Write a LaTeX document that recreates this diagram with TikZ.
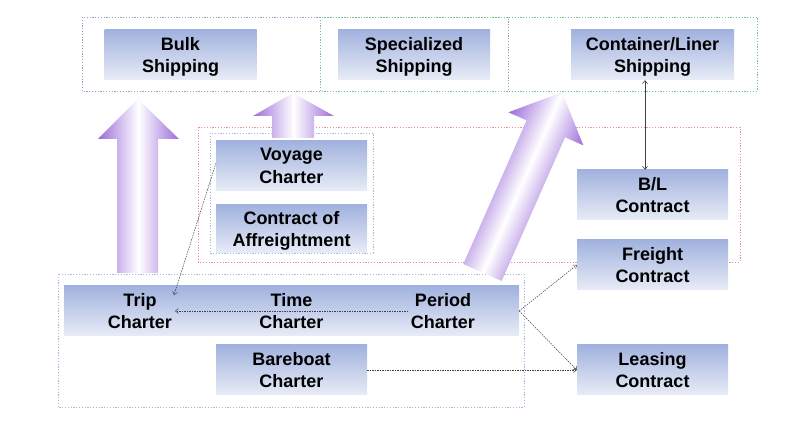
\documentclass[tikz,border=0pt]{standalone}
\usepackage{fontspec}
\setmainfont{Liberation Sans}
\usetikzlibrary{arrows.meta,calc}
\definecolor{boxtop}{HTML}{A1B2DE}
\definecolor{boxbot}{HTML}{E8ECF7}
\definecolor{arrpurple}{HTML}{9B6CDA}
\definecolor{greyblue}{HTML}{8FA2C6}
\definecolor{dotgreen}{HTML}{72C290}
\definecolor{dotred}{HTML}{F09090}
\definecolor{lightblue}{HTML}{A0BAE0}
\definecolor{linegrey}{HTML}{404040}
\tikzset{
  cbox/.style={rectangle, top color=boxtop, bottom color=boxbot, draw=none,
    minimum width=152pt, minimum height=50pt, inner sep=0pt, align=center,
    text depth=0pt, font=\fontsize{18}{22.5}\selectfont\bfseries},
  dotbox/.style={line width=0.75pt, dash pattern=on 1.2pt off 1.6pt},
  bigarrow/.style={left color=arrpurple, right color=arrpurple, middle color=white, draw=none},
  conn/.style={linegrey, line width=0.5pt, dash pattern=on 1.5pt off 1pt,
    -{Straight Barb[length=3pt,width=5pt]}},
  solidconn/.style={linegrey, line width=0.6pt,
    {Straight Barb[length=3pt,width=5pt]}-{Straight Barb[length=3pt,width=5pt]}}
}
\begin{document}
\begin{tikzpicture}[x=1pt,y=-1pt]
\useasboundingbox (0,0) rectangle (796,438);
% dotted group frames
\draw[dotbox, greyblue] (82,17) rectangle (508,91);
\draw[dotbox, dotgreen] (320,17) rectangle (757,91);
\draw[dotbox, dotred] (198,127) rectangle (740,262);
\draw[dotbox, lightblue] (210,133) rectangle (373,253);
\draw[dotbox, lightblue] (58,274) rectangle (524,407);
% big arrows
\shade[bigarrow] (117,273) -- (117,139) -- (98,139) -- (138,99) -- (179,139) -- (158,139) -- (158,273) -- cycle;
\shade[bigarrow] (272,138) -- (272,116) -- (253,116) -- (293,93) -- (334,116) -- (314,116) -- (314,138) -- cycle;
\begin{scope}[transform canvas={shift={(482.5,272.5)}, rotate=-23.8}]
\shade[bigarrow] (-21pt,0pt) -- (-21pt,157pt) -- (-41pt,157pt) -- (0pt,197pt) -- (41pt,157pt) -- (21pt,157pt) -- (21pt,0pt) -- cycle;
\end{scope}
% boxes
\node[cbox] (bulk) at (180.5,55) {Bulk\\Shipping};
\node[cbox] (spec) at (414,55) {Specialized\\Shipping};
\node[cbox, minimum width=163pt] (cont) at (652.5,55) {Container/Liner\\Shipping};
\node[cbox, minimum width=151pt] (voyage) at (291.5,166) {Voyage\\Charter};
\node[cbox, minimum width=151pt, minimum height=48pt] (coa) at (291.5,229) {Contract of\\Affreightment};
\node[cbox, minimum width=151pt] (bl) at (652.5,195) {B/L\\Contract};
\node[cbox, minimum width=151pt] (freight) at (652.5,265) {Freight\\Contract};
\node[cbox, minimum width=151pt] (leasing) at (652.5,370) {Leasing\\Contract};
\node[cbox] (trip) at (140,311) {Trip\\Charter};
\node[cbox, minimum width=151pt] (time) at (291.5,311) {Time\\Charter};
\node[cbox] (period) at (443,311) {Period\\Charter};
\node[cbox, minimum width=151pt] (bareboat) at (291.5,370) {Bareboat\\Charter};
% connector anchor points
\coordinate (tripA) at (174,295);
\coordinate (tripB) at (175,311);
\coordinate (periodA) at (408,311);
\coordinate (voyA) at (216,163);
% connectors
\draw[solidconn] ([xshift=-7.5pt]cont.south) -- ([xshift=-7.5pt]bl.north);
\draw[conn] (voyA) -- (tripA);
\draw[conn] (periodA) -- (tripB);
\draw[conn] (period.east) -- (freight.west);
\draw[conn] (period.east) -- (leasing.west);
\draw[conn] (bareboat.east) -- (leasing.west);
\end{tikzpicture}
\end{document}
